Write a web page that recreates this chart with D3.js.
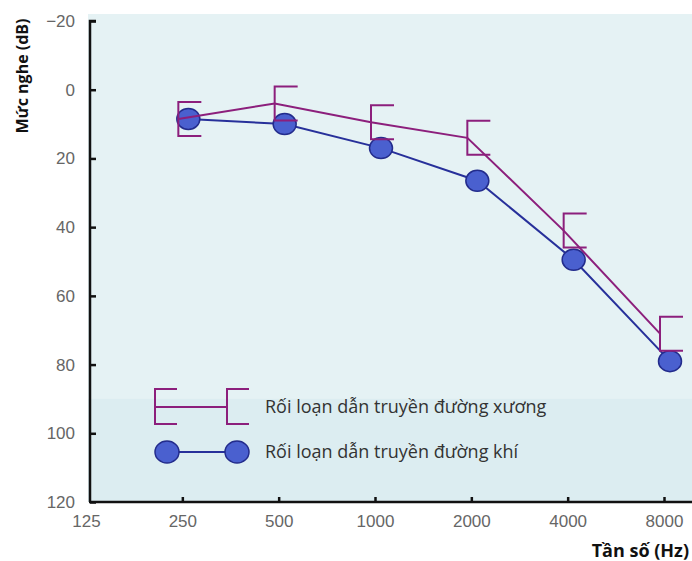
<!DOCTYPE html>
<html><head><meta charset="utf-8">
<script src="https://cdn.jsdelivr.net/npm/d3@7"></script>
<style>
html,body{margin:0;padding:0;background:#fff;}
svg{display:block;font-family:"Open Sans","Noto Sans",sans-serif;}
</style></head>
<body>
<svg id="chart" width="692" height="561"></svg>
<script>
const frequencies = [250, 500, 1000, 2000, 4000, 8000];
const xTickLabels = [125, 250, 500, 1000, 2000, 4000, 8000];
const yTickValues = [-20, 0, 20, 40, 60, 80, 100, 120];
const boneConduction = [8.5, 4, 9.5, 14, 41, 71];
const airConduction = [8.5, 10, 17, 26.5, 49.5, 79];
const seriesNames = ["Rối loạn dẫn truyền đường xương", "Rối loạn dẫn truyền đường khí"];
const yTitle = "Mức nghe (dB)";
const xTitle = "Tần số (Hz)";

const svg = d3.select("#chart");
const purple = "#8c1f7c", blueLine = "#27309a", blueFill = "#4a60cf", blueStroke = "#232c8c";

const x = d3.scaleLog().base(2).domain([125, 8000]).range([86, 664]);
const y = d3.scaleLinear().domain([-20, 120]).range([21, 502]);

// panel background
svg.append("rect").attr("x", 88).attr("y", 14).attr("width", 604).attr("height", 488).attr("fill", "#e5f2f4");
svg.append("rect").attr("x", 88).attr("y", y(90)).attr("width", 604).attr("height", y(120) - y(90)).attr("fill", "#dcedf1");

// axes
const yAxis = d3.axisLeft(y).tickValues(yTickValues).tickSize(-6).tickPadding(14)
  .tickFormat(d => d < 0 ? "\u2212" + Math.abs(d) : d);
const gy = svg.append("g").attr("transform", "translate(90,0)").call(yAxis);
gy.select(".domain").attr("stroke", "#111").attr("stroke-width", 2.5).attr("d", `M6,${y(-20)}H0V${y(120)}`);
gy.selectAll(".tick line").attr("stroke", "#111").attr("stroke-width", 2.5);
gy.selectAll(".tick text").attr("fill", "#666").attr("font-size", 17).attr("x", -15);

const xAxis = d3.axisBottom(x).tickValues(xTickLabels).tickSize(-5).tickPadding(13).tickFormat(d => d);
const gx = svg.append("g").attr("transform", `translate(0,${y(120)})`).call(xAxis);
gx.select(".domain").attr("stroke", "#111").attr("stroke-width", 2.5).attr("d", `M89,0H692`);
gx.selectAll(".tick line").attr("stroke", "#111").attr("stroke-width", 2.5);
gx.selectAll(".tick").filter(d => d === 125).select("line").remove();
gx.selectAll(".tick text").attr("fill", "#666").attr("font-size", 17);

// titles
svg.append("text").attr("transform", "translate(28,76) rotate(-90)").attr("text-anchor", "middle")
  .attr("font-size", 16).attr("font-weight", 700).attr("fill", "#111").text(yTitle);
svg.append("text").attr("x", 689).attr("y", 557).attr("text-anchor", "end").attr("font-size", 18).attr("font-weight", 700)
  .attr("fill", "#111").text(xTitle);

// air conduction (blue)
const airPts = frequencies.map((f, i) => [x(f) + 6, y(airConduction[i])]);
svg.append("path").attr("d", d3.line()(airPts)).attr("fill", "none").attr("stroke", blueLine).attr("stroke-width", 2);
svg.selectAll("ellipse.air").data(airPts).join("ellipse").attr("class", "air")
  .attr("cx", d => d[0]).attr("cy", d => d[1]).attr("rx", 11.5).attr("ry", 10.5)
  .attr("fill", blueFill).attr("stroke", blueStroke).attr("stroke-width", 1.5);

// bone conduction (purple)
const bonePts = frequencies.map((f, i) => [x(f) - 4, y(boneConduction[i])]);
svg.append("path").attr("d", d3.line()(bonePts)).attr("fill", "none").attr("stroke", purple).attr("stroke-width", 2);
const bh = 17, bw = 23;
svg.selectAll("path.bone").data(bonePts).join("path").attr("class", "bone")
  .attr("d", d => `M${d[0] + bw},${d[1] - bh}H${d[0]}V${d[1] + bh}H${d[0] + bw}`)
  .attr("fill", "none").attr("stroke", purple).attr("stroke-width", 2);

// legend
const lg = svg.append("g");
lg.append("path").attr("d", `M177,389H155V424H177 M155,407H227 M249,389H227V424H249`)
  .attr("fill", "none").attr("stroke", purple).attr("stroke-width", 2);
lg.append("line").attr("x1", 167).attr("x2", 237).attr("y1", 452).attr("y2", 452).attr("stroke", blueLine).attr("stroke-width", 2);
lg.selectAll("ellipse").data([167, 237]).join("ellipse").attr("cx", d => d).attr("cy", 452).attr("rx", 12).attr("ry", 11)
  .attr("fill", blueFill).attr("stroke", blueStroke).attr("stroke-width", 1.5);
lg.selectAll("text").data(seriesNames).join("text").attr("x", 265).attr("y", (d, i) => 407 + i * 45)
  .attr("dy", "0.35em").attr("font-size", 18).attr("fill", "#333").text(d => d);
</script>
</body></html>
